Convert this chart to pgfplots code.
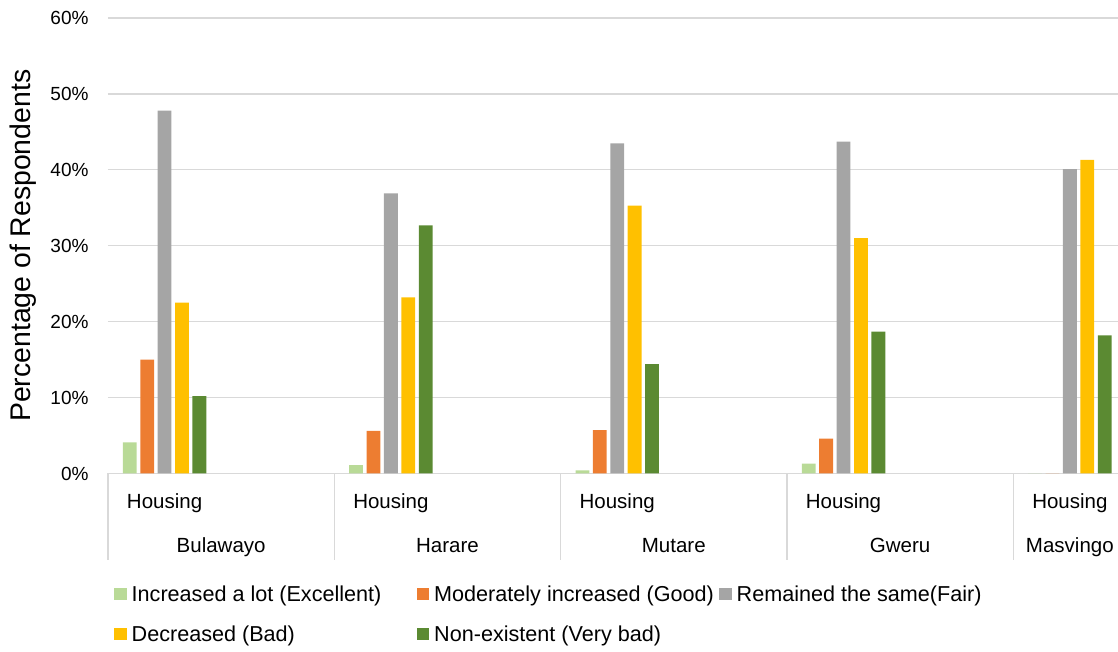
\documentclass[border=0pt]{standalone}
\usepackage{fontspec}
\setmainfont{Liberation Sans}
\usepackage{pgfplots}
\pgfplotsset{compat=1.18}
\usepackage{pgfplotstable}

\definecolor{cA}{HTML}{B9DA97}
\definecolor{cB}{HTML}{ED7D31}
\definecolor{cC}{HTML}{A5A5A5}
\definecolor{cD}{HTML}{FFC000}
\definecolor{cE}{HTML}{5B8A32}
\definecolor{gridgray}{HTML}{D9D9D9}

% x: subcategory index (Housing of each city at 0,2,4,6,8)
\pgfplotstableread{
x y
0 4.1
2 1.1
4 0.4
6 1.3
8 0
}\tA
\pgfplotstableread{
x y
0 15.0
2 5.6
4 5.7
6 4.6
8 0
}\tB
\pgfplotstableread{
x y
0 47.8
2 36.9
4 43.5
6 43.7
8 40.1
}\tC
\pgfplotstableread{
x y
0 22.5
2 23.2
4 35.3
6 31.0
8 41.3
}\tD
\pgfplotstableread{
x y
0 10.2
2 32.7
4 14.4
6 18.7
8 18.2
}\tE

\begin{document}
\begin{tikzpicture}
\useasboundingbox (-108pt,-178.5pt) rectangle (1010pt,473.5pt);
\begin{axis}[
  at={(0pt,0pt)}, anchor=south west,
  scale only axis, width=1010pt, height=455.5pt,
  xmin=-0.5, xmax=8.426, ymin=0, ymax=60,
  clip=false,
  axis x line*=bottom, axis y line*=left,
  x axis line style={draw=gridgray, line width=1.3pt},
  y axis line style={draw=none},
  ymajorgrids, grid style={draw=gridgray, line width=1.3pt},
  ytick={0,10,20,30,40,50,60},
  yticklabels={0\%,10\%,20\%,30\%,40\%,50\%,60\%},
  yticklabel style={font=\fontsize{19}{22}\selectfont, xshift=-16pt},
  xtick={0,2,4,6,8},
  xticklabels={Housing,Housing,Housing,Housing,Housing},
  xticklabel style={font=\fontsize{20.5}{24}\selectfont, anchor=base, yshift=-34.5pt},
  major tick length=0pt,
  /pgf/number format/assume math mode=true,
  legend columns=3,
  legend cell align=left,
  legend style={at={(axis description cs:0,0)}, anchor=north west,
    xshift=3pt, yshift=-108pt, draw=none, fill=none,
    font=\fontsize{21.6}{25}\selectfont, row sep=19pt,
    /tikz/every odd column/.append style={column sep=3pt},
    /tikz/every even column/.append style={column sep=0pt}},
  legend image code/.code={\fill[#1] (0pt,-6pt) rectangle (12.5pt,6.5pt);},
]
\addplot[ybar, bar width=0.122, bar shift=-0.3077, fill=cA, draw=none] table[x=x,y=y]{\tA};
\addlegendentry{\makebox[283pt][l]{Increased a lot (Excellent)}}
\addplot[ybar, bar width=0.122, bar shift=-0.1538, fill=cB, draw=none] table[x=x,y=y]{\tB};
\addlegendentry{\makebox[283pt][l]{Moderately increased (Good)}}
\addplot[ybar, bar width=0.122, bar shift=0, fill=cC, draw=none] table[x=x,y=y]{\tC};
\addlegendentry{\makebox[283pt][l]{Remained the same(Fair)}}
\addplot[ybar, bar width=0.122, bar shift=0.1538, fill=cD, draw=none] table[x=x,y=y]{\tD};
\addlegendentry{\makebox[283pt][l]{Decreased (Bad)}}
\addplot[ybar, bar width=0.122, bar shift=0.3077, fill=cE, draw=none] table[x=x,y=y]{\tE};
\addlegendentry{\makebox[283pt][l]{Non-existent (Very bad)}}

\pgfplotsinvokeforeach{-0.5,1.5,3.5,5.5,7.5}{
  \draw[gridgray, line width=1.3pt] (axis cs:#1,0) -- ++(0pt,-86.5pt);
}
\begin{scope}[font=\fontsize{20.5}{24}\selectfont]
\node[anchor=base] at (axis cs:0.5,0) [yshift=-78.5pt] {Bulawayo};
\node[anchor=base] at (axis cs:2.5,0) [yshift=-78.5pt] {Harare};
\node[anchor=base] at (axis cs:4.5,0) [yshift=-78.5pt] {Mutare};
\node[anchor=base] at (axis cs:6.5,0) [yshift=-78.5pt] {Gweru};
\node[anchor=base] at (axis cs:8,0) [yshift=-78.5pt] {Masvingo};
\end{scope}
\node[rotate=90, anchor=center, font=\fontsize{28.4}{33}\selectfont] at (axis description cs:-0.0842,0.5) {Percentage of Respondents};
\end{axis}
\end{tikzpicture}
\end{document}
